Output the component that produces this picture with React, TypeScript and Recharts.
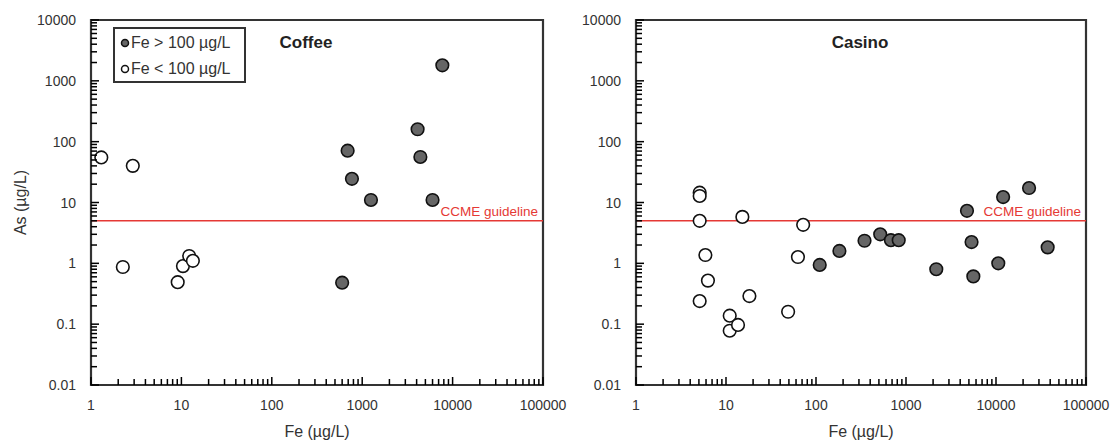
import React from 'react';
import { ScatterChart, Scatter, XAxis, YAxis, ReferenceLine, ReferenceArea, Legend } from 'recharts';

// axis decades (tick labels)
const feTicks = [1, 10, 100, 1000, 10000, 100000];
const asTicks = [0.01, 0.1, 1, 10, 100, 1000, 10000];
const guideline = 5;
const guidelineLabel = 'CCME guideline';

// Coffee
const coffeeHighFe = [7700, 4100, 4400, 690, 770, 1250, 6000, 600];
const coffeeHighAs = [1800, 160, 56, 71, 24.5, 11, 11, 0.48];
const coffeeLowFe = [1.3, 2.9, 2.25, 9.1, 10.4, 12.2, 13.4];
const coffeeLowAs = [55, 40, 0.87, 0.49, 0.9, 1.32, 1.1];

// Casino
const casinoHighFe = [110, 182, 346, 517, 680, 830, 2170, 4760, 5350, 5600, 10600, 12000, 23300, 37500];
const casinoHighAs = [0.94, 1.6, 2.35, 3.0, 2.4, 2.4, 0.8, 7.3, 2.24, 0.61, 1.0, 12.3, 17.3, 1.83];
const casinoLowFe = [5.1, 5.1, 5.1, 5.9, 6.3, 5.1, 11, 11, 13.6, 15.2, 18.2, 49, 63, 72];
const casinoLowAs = [14.5, 12.8, 5.0, 1.37, 0.52, 0.24, 0.138, 0.078, 0.097, 5.8, 0.29, 0.16, 1.27, 4.3];

const highLabel = 'Fe > 100 µg/L';
const lowLabel = 'Fe < 100 µg/L';
const highFill = '#666';
const lowFill = '#fff';

const ink = '#333';
const TICK_GAP = 15;

type Pt = { fe: number; as: number };
const zip = (fe: number[], as: number[]): Pt[] => fe.map((f, i) => ({ fe: f, as: as[i] }));

// log axis: every 1..9 step of each decade, labels only on decades
const withMinors = (majors: number[]) =>
  majors
    .slice(0, -1)
    .flatMap((m) => [1, 2, 3, 4, 5, 6, 7, 8, 9].map((k) => m * k))
    .concat(majors[majors.length - 1]);

const feAll = withMinors(feTicks);
const asAll = withMinors(asTicks);

// inward ticks, drawn from the axis line into the plot
const XTick = (props: any) => {
  const { x, y, payload } = props;
  const v = payload.value;
  const major = feTicks.includes(v);
  const axisY = y - TICK_GAP;
  return (
    <g>
      <path d={`M${x},${axisY}V${axisY - (major ? 8 : 6)}`} stroke="#000" strokeWidth={1.5} fill="none" />
      {major && (
        <text x={x} y={y} dy="0.71em" textAnchor="middle" fontSize={14} fill={ink}>
          {v}
        </text>
      )}
    </g>
  );
};

const YTick = (props: any) => {
  const { x, y, payload } = props;
  const v = payload.value;
  const major = asTicks.includes(v);
  const axisX = x + TICK_GAP;
  return (
    <g>
      <path d={`M${axisX},${y}H${axisX + (major ? 8 : 6)}`} stroke="#000" strokeWidth={1.5} fill="none" />
      {major && (
        <text x={x} y={y} dy="0.36em" textAnchor="end" fontSize={14} fill={ink}>
          {v}
        </text>
      )}
    </g>
  );
};

const dot = (fill: string) => (p: any) =>
  <circle cx={p.cx} cy={p.cy} r={6.3} fill={fill} stroke="#111" strokeWidth={1.6} />;

const LegendBox = () => (
  <div
    style={{
      border: `2px solid ${ink}`,
      boxSizing: 'border-box',
      width: 133,
      height: 56,
      padding: '1px 0 0 5px',
      background: '#fff',
    }}
  >
    {[
      { label: highLabel, fill: highFill },
      { label: lowLabel, fill: lowFill },
    ].map((it) => (
      <div key={it.label} style={{ display: 'flex', alignItems: 'center', height: 26, fontSize: 16, color: ink }}>
        <svg width={10} height={10}>
          <circle cx={5} cy={5} r={3.5} fill={it.fill} stroke="#111" strokeWidth={1.5} />
        </svg>
        <span style={{ marginLeft: 1 }}>{it.label}</span>
      </div>
    ))}
  </div>
);

type PanelProps = {
  width: number;
  yAxisWidth: number;
  marginRight: number;
  title: string;
  titleX: number;
  high: Pt[];
  low: Pt[];
  showLegend?: boolean;
  showYTitle?: boolean;
};

const Panel = ({ width, yAxisWidth, marginRight, title, titleX, high, low, showLegend, showYTitle }: PanelProps) => (
  <ScatterChart width={width} height={440} margin={{ top: 20, right: marginRight, bottom: 0, left: 0 }}>
    <ReferenceArea
      x1={1}
      x2={100000}
      y1={0.01}
      y2={10000}
      fill="none"
      fillOpacity={0}
      stroke={ink}
      strokeWidth={2.2}
      ifOverflow="visible"
    />
    <XAxis
      type="number"
      dataKey="fe"
      scale="log"
      domain={[1, 100000]}
      allowDataOverflow
      ticks={feAll}
      interval={0}
      height={55}
      tickSize={0}
      tickMargin={TICK_GAP}
      tickLine={false}
      tick={<XTick />}
      axisLine={{ stroke: ink, strokeWidth: 2 }}
      label={{ value: 'Fe (µg/L)', position: 'insideBottom', offset: 3, fill: ink, fontSize: 16 }}
    />
    <YAxis
      type="number"
      dataKey="as"
      scale="log"
      domain={[0.01, 10000]}
      allowDataOverflow
      ticks={asAll}
      interval={0}
      width={yAxisWidth}
      tickSize={0}
      tickMargin={TICK_GAP}
      tickLine={false}
      tick={<YTick />}
      axisLine={{ stroke: ink, strokeWidth: 2 }}
      label={
        showYTitle
          ? {
              value: 'As (µg/L)',
              angle: -90,
              position: 'insideLeft',
              offset: 20,
              fill: ink,
              fontSize: 16,
              style: { textAnchor: 'middle' },
            }
          : undefined
      }
    />
    <ReferenceLine
      y={guideline}
      stroke="#e53935"
      strokeWidth={1.5}
      label={{ value: guidelineLabel, position: 'insideBottomRight', offset: 5, fill: '#e53935', fontSize: 13.5 }}
    />
    <Scatter name={lowLabel} data={low} fill={lowFill} shape={dot(lowFill)} isAnimationActive={false} />
    <Scatter name={highLabel} data={high} fill={highFill} shape={dot(highFill)} isAnimationActive={false} />
    <text x={titleX} y={42} textAnchor="middle" dominantBaseline="central" fontWeight="bold" fontSize={17} fill="#222">
      {title}
    </text>
    {showLegend && (
      <Legend
        layout="vertical"
        align="center"
        verticalAlign="middle"
        content={() => <LegendBox />}
        wrapperStyle={{ left: 113, top: 27, width: 133, height: 56 }}
      />
    )}
  </ScatterChart>
);

export default function App() {
  return (
    <div
      style={{
        position: 'absolute',
        left: 0,
        top: 0,
        width: 1117,
        height: 440,
        background: '#fff',
        fontFamily: '"Liberation Sans", Arial, sans-serif',
      }}
    >
      <div style={{ position: 'absolute', left: 0, top: 0 }}>
        <Panel
          width={575}
          yAxisWidth={91}
          marginRight={32}
          title="Coffee"
          titleX={306}
          high={zip(coffeeHighFe, coffeeHighAs)}
          low={zip(coffeeLowFe, coffeeLowAs)}
          showLegend
          showYTitle
        />
      </div>
      <div style={{ position: 'absolute', left: 575, top: 0 }}>
        <Panel
          width={542}
          yAxisWidth={61}
          marginRight={31}
          title="Casino"
          titleX={285}
          high={zip(casinoHighFe, casinoHighAs)}
          low={zip(casinoLowFe, casinoLowAs)}
        />
      </div>
    </div>
  );
}
